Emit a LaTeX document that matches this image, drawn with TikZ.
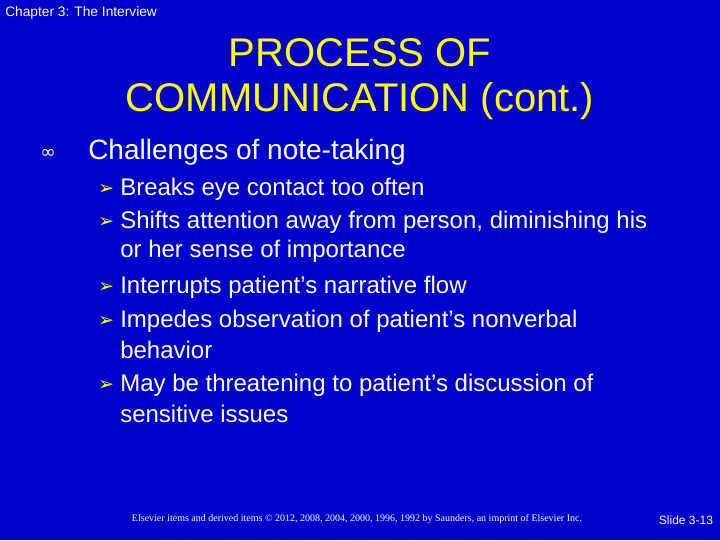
\documentclass[tikz,border=0pt]{standalone}
\usepackage{fontspec}
\setmainfont{Liberation Sans}
\newfontfamily\dejavu{DejaVu Sans}
\newfontfamily\timesf{Liberation Serif}
\definecolor{bg}{RGB}{0,0,204}
\definecolor{ttl}{RGB}{255,255,0}
\definecolor{crm}{RGB}{255,255,204}
\begin{document}
\begin{tikzpicture}[x=0.75pt,y=-0.75pt,
  body/.style={anchor=west,text=white,font=\fontsize{18}{20}\selectfont,inner sep=0},
  arr/.style={anchor=west,text=ttl,font=\dejavu\fontsize{14}{16}\selectfont,inner sep=0}]
\fill[bg] (0,0) rectangle (720,540);
\useasboundingbox (0,0) rectangle (720,540);
\node[anchor=west,text=white,font=\fontsize{10.3}{12}\selectfont,inner sep=0] (hdr) at (5,13) {Chapter 3: The Interview};
\node[text=ttl,font=\fontsize{30}{34}\selectfont,inner sep=0] (t1) at (360,53) {PROCESS OF};
\node[text=ttl,font=\fontsize{30}{34}\selectfont,inner sep=0] (t2) at (360,101) {COMMUNICATION (cont.)};
\node[anchor=west,text=crm,font=\dejavu\fontsize{14}{16}\selectfont,inner sep=0] (b0) at (40,154) {∞};
\node[anchor=west,text=white,font=\fontsize{21}{24}\selectfont,inner sep=0] (ch) at (88,152) {Challenges of note-taking};
\node[arr] (a1) at (98,190) {➢};
\node[body] (l1) at (120,189) {Breaks eye contact too often};
\node[arr] (a2) at (98,223) {➢};
\node[body] (l2) at (120,222) {Shifts attention away from person, diminishing his};
\node[body] (l2b) at (120,251) {or her sense of importance};
\node[arr] (a3) at (98,288) {➢};
\node[body] (l3) at (120,287) {Interrupts patient’s narrative flow};
\node[arr] (a4) at (98,322) {➢};
\node[body] (l4) at (120,321) {Impedes observation of patient’s nonverbal};
\node[body] (l4b) at (120,350) {behavior};
\node[arr] (a5) at (98,386) {➢};
\node[body] (l5) at (120,385) {May be threatening to patient’s discussion of};
\node[body] (l5b) at (120,414) {sensitive issues};
\node[text=white,font=\timesf\fontsize{7.5}{8}\selectfont,inner sep=0] (ft) at (357,519) {Elsevier items and derived items © 2012, 2008, 2004, 2000, 1996, 1992 by Saunders, an imprint of Elsevier Inc.};
\node[text=white,font=\fontsize{9}{10}\selectfont,inner sep=0] (sl) at (686,520) {Slide 3-13};
\end{tikzpicture}
\end{document}
